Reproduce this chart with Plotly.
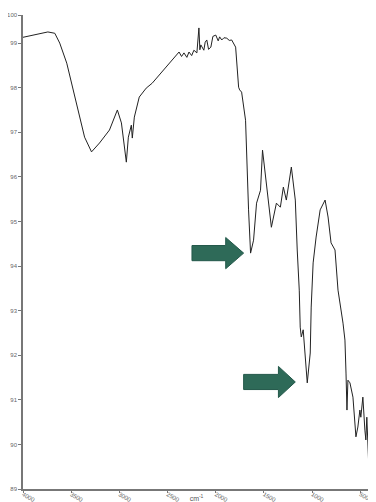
import plotly.graph_objects as go

wavenumber = [4000, 3825, 3742, 3670, 3619, 3546, 3485, 3412, 3361, 3289, 3206, 3103, 3021, 2979,
              2948, 2928, 2907, 2876, 2866, 2845, 2794, 2722, 2660, 2567, 2484, 2402, 2381, 2355,
              2330, 2300, 2278, 2250, 2227, 2196, 2175, 2165, 2155, 2124, 2110, 2093, 2075, 2051,
              2030, 2000, 1975, 1960, 1938, 1915, 1886, 1860, 1835, 1794, 1763, 1752, 1732, 1691,
              1680, 1660, 1639, 1608, 1577, 1536, 1515, 1474, 1423, 1371, 1330, 1299, 1268, 1216,
              1175, 1155, 1134, 1124, 1113, 1093, 1072, 1051, 1020, 1010, 990, 959, 917, 866, 835,
              804, 763, 732, 680, 660, 649, 639, 629, 608, 577, 546, 526, 505, 495, 474, 453, 443,
              433, 422, 408]
transmittance = [99.13, 99.20, 99.25, 99.22, 99.00, 98.55, 98.01, 97.34, 96.89, 96.56, 96.76, 97.05,
                 97.50, 97.21, 96.67, 96.33, 96.89, 97.16, 96.87, 97.34, 97.79, 97.99, 98.10, 98.33,
                 98.55, 98.73, 98.80, 98.70, 98.78, 98.68, 98.80, 98.72, 98.84, 98.78, 99.34, 98.85,
                 98.96, 98.84, 99.02, 99.07, 98.86, 98.91, 99.15, 99.18, 99.05, 99.14, 99.07, 99.12,
                 99.11, 99.06, 99.07, 98.91, 98.01, 97.95, 97.90, 97.27, 96.38, 95.26, 94.29, 94.58,
                 95.41, 95.70, 96.60, 95.86, 94.87, 95.41, 95.32, 95.77, 95.48, 96.22, 95.48, 94.36,
                 93.46, 92.63, 92.41, 92.57, 91.89, 91.38, 92.05, 93.08, 94.07, 94.65, 95.26, 95.48,
                 95.10, 94.52, 94.36, 93.46, 92.72, 92.34, 91.60, 90.77, 91.44, 91.38, 91.06, 90.17,
                 90.39, 90.77, 90.61, 91.06, 90.32, 90.10, 90.61, 89.81, 89.27]

x_tick_vals = [4000, 3500, 3000, 2500, 2000, 1500, 1000, 500, 400]
x_tick_text = ["4000", "3500", "3000", "2500", "2000", "1500", "1000", "500", "400"]
y_tick_vals = [89, 90, 91, 92, 93, 94, 95, 96, 97, 98, 99, 99.63]
y_tick_text = ["89", "90", "91", "92", "93", "94", "95", "96", "97", "98", "99", "100"]

# block arrows: (tail wavenumber, head-base wavenumber, tip wavenumber, centre %T)
arrows = [(2247, 1897, 1711, 94.29), (1711, 1350, 1175, 91.40)]
body_half = 0.17
head_half = 0.35

fig = go.Figure()
fig.add_trace(go.Scatter(x=wavenumber, y=transmittance, mode="lines",
                         line=dict(color="#222222", width=1), showlegend=False,
                         hoverinfo="x+y"))

for tail, base, tip, yc in arrows:
    path = (f"M {tail} {yc - body_half} L {base} {yc - body_half} L {base} {yc - head_half} "
            f"L {tip} {yc} L {base} {yc + head_half} L {base} {yc + body_half} "
            f"L {tail} {yc + body_half} Z")
    fig.add_shape(type="path", path=path, xref="x", yref="y",
                  fillcolor="#2e6a58", line=dict(color="#23584a", width=1))

fig.update_layout(
    width=368, height=494,
    margin=dict(l=15, r=6, t=7, b=13),
    paper_bgcolor="white", plot_bgcolor="white",
    font=dict(family="Liberation Sans, Arial, sans-serif", size=6, color="#666666"),
    xaxis=dict(range=[4000, 400], tickvals=x_tick_vals, ticktext=x_tick_text,
               showgrid=False, zeroline=False, showline=True, linecolor="#777777",
               linewidth=1.5, ticks="outside", ticklen=2, tickcolor="#777777",
               ticklabelstandoff=-4,
               tickfont=dict(size=6, color="#666666"), automargin=False,
               title=dict(text="cm<sup>-1</sup>", font=dict(size=7, color="#555555"),
                          standoff=0)),
    yaxis=dict(range=[89, 99.63], tickvals=y_tick_vals, ticktext=y_tick_text,
               showgrid=False, zeroline=False, showline=True, linecolor="#777777",
               linewidth=1.5, ticks="outside", ticklen=3, tickcolor="#777777",
               tickfont=dict(size=6, color="#666666"), automargin=False),
)

fig.write_html("out.html")
